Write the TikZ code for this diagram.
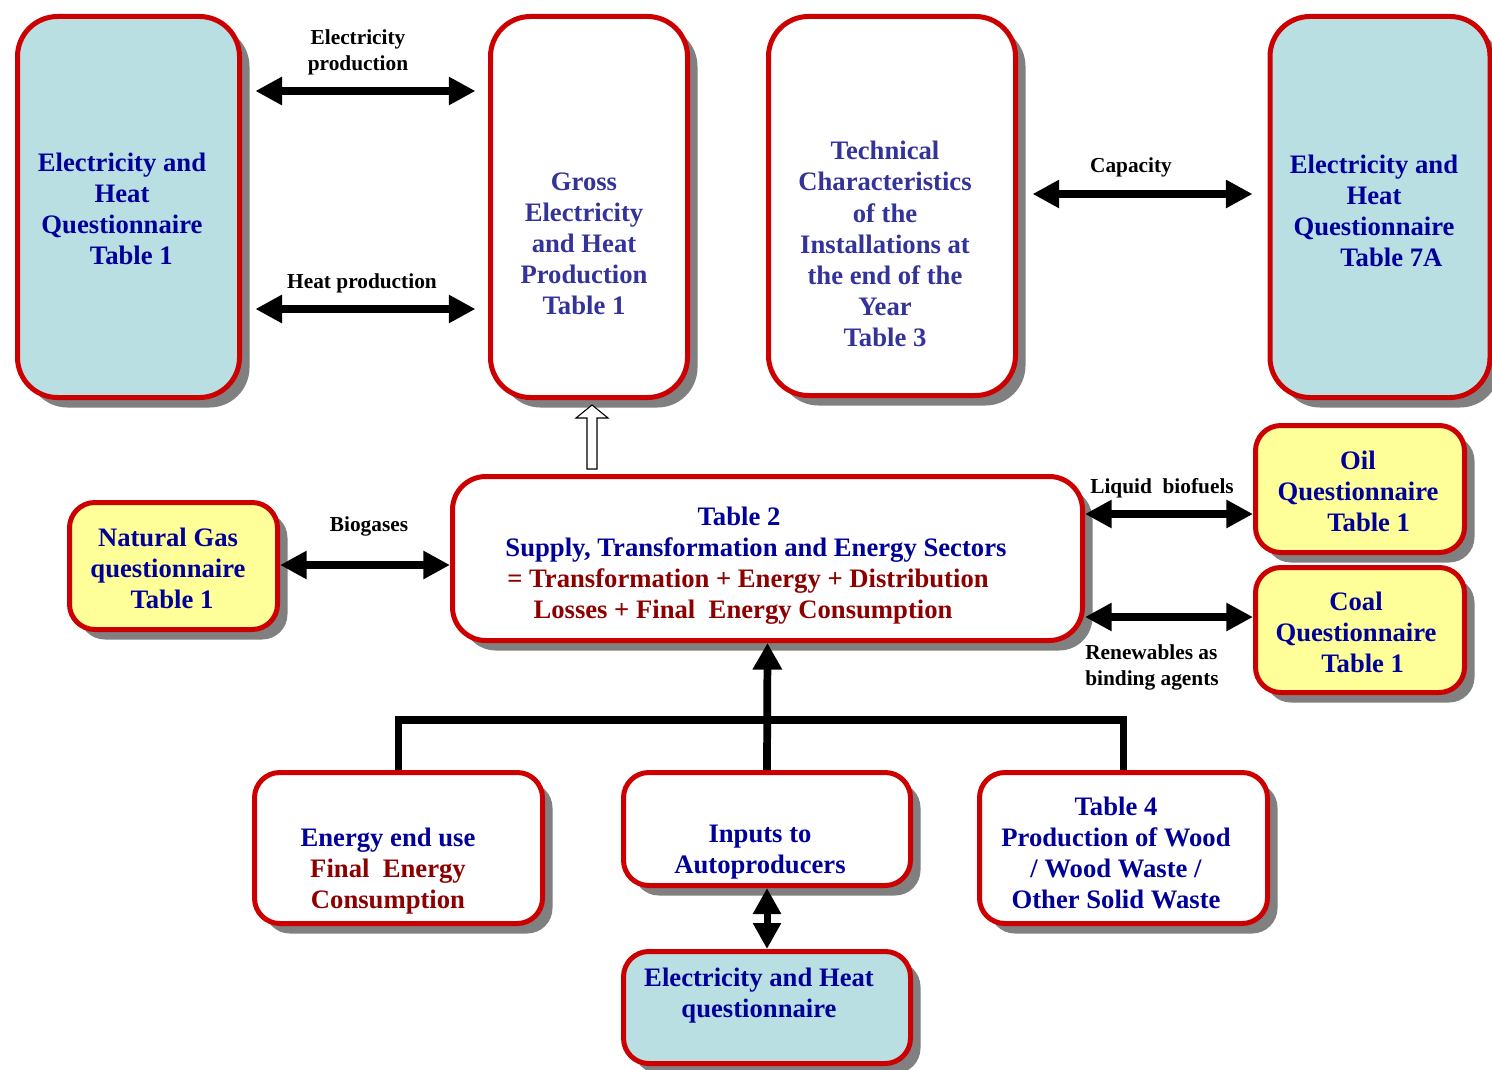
\documentclass[tikz,border=0pt]{standalone}
\usepackage{fontspec}
\setmainfont{Liberation Serif}
\usetikzlibrary{arrows.meta,shadows,calc}
\definecolor{bred}{RGB}{204,0,0}
\definecolor{lblue}{RGB}{185,223,227}
\definecolor{lyel}{RGB}{255,255,153}
\definecolor{navy}{RGB}{0,0,153}
\definecolor{dred}{RGB}{140,0,0}
\definecolor{pblue}{RGB}{51,51,153}
\definecolor{shad}{RGB}{128,128,128}
\begin{document}
\begin{tikzpicture}[x=0.75pt,y=-0.75pt,
  box/.style={draw=bred, line width=3.75pt, inner sep=0pt,
    drop shadow={shadow xshift=7.5pt, shadow yshift=-7.5pt, fill=shad, opacity=1}},
  wh/.style 2 args={minimum width=#1*0.75pt, minimum height=#2*0.75pt},
  tall/.style={box, rounded corners=30pt},
  mid/.style={box, rounded corners=25pt},
  small/.style={box, rounded corners=19pt},
  txt/.style={font=\bfseries\fontsize{20}{23.3}\selectfont, align=center, text=navy, inner sep=0pt},
  lbl/.style={font=\bfseries\fontsize{16}{19.5}\selectfont, align=center, inner sep=0pt},
  dbl/.style={line width=6.4pt, >={Triangle[length=20pt,width=20pt]}, <->},
  tree/.style={line width=5.8pt, line join=miter},
  hollow/.style={draw=black, line width=0.8pt, fill=white}
]
\useasboundingbox (0,0) rectangle (1492,1070);

% boxes
\node[tall, fill=lblue, wh={222}{381}] (eh1) at (128.5,207) {};
\node[tall, fill=white, wh={197}{381}] (gross) at (589,207) {};
\node[tall, fill=white, wh={247}{379}] (tech) at (892,206) {};
\node[tall, fill=lblue, wh={220}{381}] (eh7) at (1380,207) {};
\node[mid, fill=white, wh={630}{164}] (t2) at (767.5,558.5) {};
\node[small, fill=lyel, wh={208}{127}] (ng) at (173.5,566) {};
\node[small, fill=lyel, wh={209}{127}] (oil) at (1360,489) {};
\node[small, fill=lyel, wh={209}{125}] (coal) at (1360,630) {};
\node[small, fill=white, wh={288}{151}] (ea) at (398.5,848) {};
\node[small, fill=white, wh={287}{113}] (inp) at (767,829) {};
\node[small, fill=white, wh={288}{151}] (t4) at (1123.5,848) {};
\node[small, fill=lblue, wh={287}{112}] (ehq) at (767,1007.5) {};

% texts
\node[txt] (eh1t) at (122,209) {Electricity and\\Heat\\Questionnaire\\\hspace*{14pt}Table 1};
\node[txt, text=pblue] (grosst) at (584,244) {Gross\\Electricity\\and Heat\\Production\\Table 1};
\node[txt, text=pblue] (techt) at (885,244) {Technical\\Characteristics\\of the\\Installations at\\the end of the\\Year\\Table 3};
\node[txt] (eh7t) at (1374,211) {Electricity and\\Heat\\Questionnaire\\\hspace*{26pt}Table 7A};
\node[txt] (t2t) at (756,566) {Table 2\hspace*{25.5pt}\\Supply, Transformation and Energy Sectors\\{\color{dred}= Transformation + Energy + Distribution\hspace*{12pt}}\\{\color{dred}Losses + Final\ \ Energy Consumption\hspace*{19.5pt}}};
\node[txt] (ngt) at (168,568) {Natural Gas\\questionnaire\\\hspace*{6pt}Table 1};
\node[txt] (oilt) at (1358,491) {Oil\\Questionnaire\\\hspace*{16pt}Table 1};
\node[txt] (coalt) at (1356,632) {Coal\\Questionnaire\\\hspace*{10pt}Table 1};
\node[txt] (eat) at (388,871) {Energy end use\\{\color{dred}Final\ \ Energy}\\{\color{dred}Consumption}};
\node[txt] (inpt) at (760,852) {Inputs to\\Autoproducers};
\node[txt] (t4t) at (1116,853) {Table 4\\Production of Wood\\/ Wood Waste /\\Other Solid Waste};
\node[txt] (ehqt) at (759,996) {Electricity and Heat\\questionnaire};

% labels
\node[lbl] (lep) at (358,52) {Electricity\\production};
\node[lbl] (lhp) at (362,283) {Heat production};
\node[lbl] (lcap) at (1131,167) {Capacity};
\node[lbl] (lbio) at (369,526) {Biogases};
\node[lbl] (lliq) at (1162,488) {Liquid\ \ biofuels};
\node[lbl, align=left, anchor=west] (lren) at (1085,667) {Renewables as\\binding agents};

% level coordinates
\coordinate (yep) at (0,91);
\coordinate (yhp) at (0,309);
\coordinate (ycap) at (0,194);
\coordinate (ybio) at (0,565);
\coordinate (ylb) at (0,514);
\coordinate (yren) at (0,617);
\coordinate (hub) at (767,720);
\coordinate (ha0) at (592,469);
\coordinate (ha1) at (592,405);

% double arrows
\draw[dbl, shorten <=10pt, shorten >=9.4pt] (eh1.east |- yep) -- (gross.west |- yep);
\draw[dbl, shorten <=10pt, shorten >=9.4pt] (eh1.east |- yhp) -- (gross.west |- yhp);
\draw[dbl, shorten <=10.9pt, shorten >=11.2pt] (tech.east |- ycap) -- (eh7.west |- ycap);
\draw[dbl] (ng.east |- ybio) -- (t2.west |- ybio);
\draw[dbl] (t2.east |- ylb) -- (oil.west |- ylb);
\draw[dbl] (t2.east |- yren) -- (coal.west |- yren);

% tree
\draw[tree] (ea.north) |- (hub) -| (t4.north);
\draw[tree, -{Triangle[length=20pt,width=21pt]}] (inp.north) -- (t2.south);
\draw[line width=5.25pt, >={Triangle[length=19.5pt,width=20pt]}, <->] (inp.south) -- (ehq.north);

% hollow arrow
\draw[hollow] (ha0) ++(-5,0) -- ++(0,-51) -- ++(-11,0) -- (ha1) -- ++(16,13) -- ++(-11,0) -- ++(0,51) -- cycle;
\end{tikzpicture}
\end{document}
